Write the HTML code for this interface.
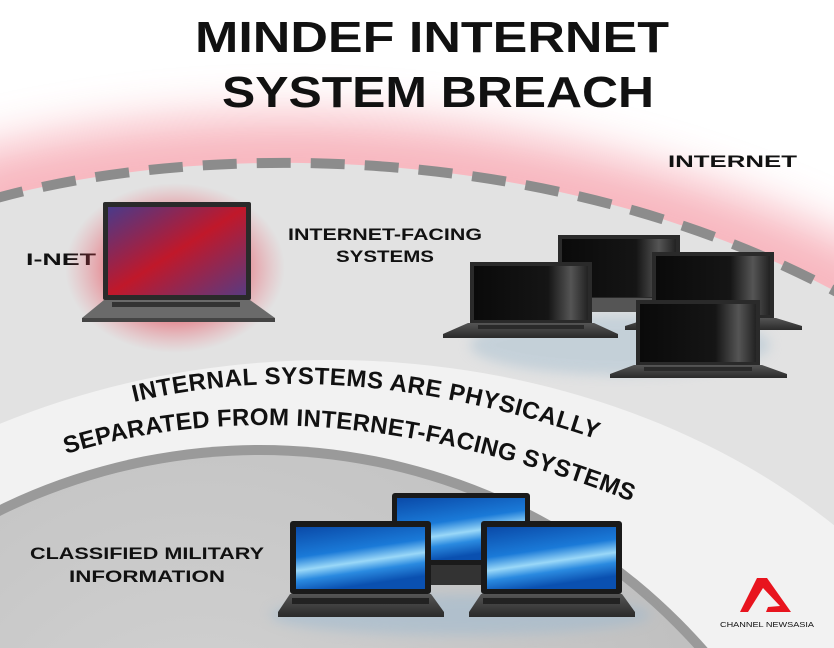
<!DOCTYPE html>
<html><head><meta charset="utf-8"><style>
html,body{margin:0;padding:0;background:#fff;width:834px;height:648px;overflow:hidden}
svg{display:block}
text{font-family:"Liberation Sans",sans-serif;font-weight:bold;fill:#111}
</style></head><body>
<svg width="834" height="648" viewBox="0 0 834 648" xmlns="http://www.w3.org/2000/svg">
<defs>
<filter id="blur20" filterUnits="userSpaceOnUse" x="-200" y="-200" width="1300" height="800"><feGaussianBlur stdDeviation="24"/></filter>
<filter id="blur6" x="-50%" y="-50%" width="200%" height="200%"><feGaussianBlur stdDeviation="6"/></filter>
<clipPath id="clip"><rect width="834" height="648"/></clipPath>
<radialGradient id="redglow" cx="50%" cy="50%" r="50%">
<stop offset="0" stop-color="#e0102a" stop-opacity="0.95"/><stop offset="0.6" stop-color="#e83040" stop-opacity="0.5"/><stop offset="1" stop-color="#f06070" stop-opacity="0"/></radialGradient>
<linearGradient id="scrRed" x1="0" y1="0" x2="1" y2="1"><stop offset="0" stop-color="#4a3a8a"/><stop offset="0.5" stop-color="#c0182a"/><stop offset="1" stop-color="#5a3a80"/></linearGradient>
<linearGradient id="scrBlk" x1="0" y1="0" x2="1" y2="0"><stop offset="0" stop-color="#0a0a0a"/><stop offset="0.65" stop-color="#151515"/><stop offset="0.85" stop-color="#555"/><stop offset="1" stop-color="#222"/></linearGradient>
<linearGradient id="scrBlue" x1="0" y1="0" x2="0.3" y2="1"><stop offset="0" stop-color="#0a4aa8"/><stop offset="0.45" stop-color="#1a7ad8"/><stop offset="0.65" stop-color="#9ad8f8"/><stop offset="0.8" stop-color="#2a8ae0"/><stop offset="1" stop-color="#0a50b0"/></linearGradient>
<linearGradient id="base" x1="0" y1="0" x2="0" y2="1"><stop offset="0" stop-color="#555"/><stop offset="1" stop-color="#2a2a2a"/></linearGradient>
<radialGradient id="inner" cx="45%" cy="30%" r="70%"><stop offset="0" stop-color="#d4d4d4"/><stop offset="1" stop-color="#b4b4b4"/></radialGradient>
</defs>
<g clip-path="url(#clip)">
<rect width="834" height="648" fill="#fff"/>
<path d="M -40,210 C 200,140 560,140 880,315" fill="none" stroke="#f07080" stroke-width="100" opacity="0.5" filter="url(#blur20)"/>
<path d="M -10,200 C 200,140 560,140 844,296 L 844,660 L -10,660 Z" fill="#e2e2e2"/>
<path d="M -10,200 C 200,140 560,140 844,296" fill="none" stroke="#8c8c8c" stroke-width="10" stroke-dasharray="34 20"/>
<ellipse cx="330" cy="900" rx="700" ry="540" fill="#f2f2f2"/>
<circle cx="260" cy="1040" r="595" fill="#9a9a9a"/>
<circle cx="260" cy="1040" r="585" fill="url(#inner)"/>

<text x="195" y="52" font-size="44" textLength="474" lengthAdjust="spacingAndGlyphs">MINDEF INTERNET</text>
<text x="222" y="107" font-size="44" textLength="432" lengthAdjust="spacingAndGlyphs">SYSTEM BREACH</text>

<text x="668" y="167" font-size="17" textLength="129" lengthAdjust="spacingAndGlyphs">INTERNET</text>
<text x="26" y="265" font-size="17" textLength="70" lengthAdjust="spacingAndGlyphs">I-NET</text>
<text x="288" y="240" font-size="17" textLength="194" lengthAdjust="spacingAndGlyphs">INTERNET-FACING</text>
<text x="336" y="262" font-size="17" textLength="98" lengthAdjust="spacingAndGlyphs">SYSTEMS</text>
<text x="30" y="559" font-size="17" textLength="234" lengthAdjust="spacingAndGlyphs">CLASSIFIED MILITARY</text>
<text x="69" y="582" font-size="17" textLength="156" lengthAdjust="spacingAndGlyphs">INFORMATION</text>

<path id="c1" d="M 134,402 Q 360,348 640,455" fill="none"/>
<path id="c2" d="M 66,454 Q 340,370 700,530" fill="none"/>
<text font-size="24" letter-spacing="0.5"><textPath href="#c1">INTERNAL SYSTEMS ARE PHYSICALLY</textPath></text>
<text font-size="24" letter-spacing="0.3"><textPath href="#c2">SEPARATED FROM INTERNET-FACING SYSTEMS</textPath></text>

<ellipse cx="175" cy="268" rx="110" ry="85" fill="url(#redglow)"/>
<rect x="103" y="202" width="148" height="98" fill="#2a2a2a" rx="2"/>
<rect x="108" y="207" width="138" height="88" fill="url(#scrRed)"/>
<path d="M 104,300 L 250,300 L 275,318 L 82,318 Z" fill="#6a6a6a"/>
<rect x="112" y="302" width="128" height="5" fill="#333"/>
<rect x="82" y="318" width="193" height="4" fill="#444"/>

<g>
<ellipse cx="620" cy="345" rx="150" ry="30" fill="#a8c0d0" opacity="0.5" filter="url(#blur6)"/>
<rect x="558" y="235" width="122" height="66" fill="#2a2a2a"/><rect x="562" y="239" width="114" height="58" fill="url(#scrBlk)"/>
<rect x="590" y="298" width="65" height="14" fill="#555"/>
<rect x="652" y="252" width="122" height="67" fill="#2a2a2a"/><rect x="656" y="256" width="114" height="59" fill="url(#scrBlk)"/>
<path d="M 650,318 L 776,318 L 802,326 L 802,330 L 625,330 L 625,326 Z" fill="url(#base)"/>
<rect x="470" y="262" width="122" height="62" fill="#2a2a2a"/><rect x="474" y="266" width="114" height="54" fill="url(#scrBlk)"/>
<path d="M 468,323 L 594,323 L 618,334 L 618,338 L 443,338 L 443,334 Z" fill="url(#base)"/>
<rect x="478" y="325" width="106" height="4" fill="#2a2a2a"/>
<rect x="636" y="300" width="124" height="66" fill="#2a2a2a"/><rect x="640" y="304" width="116" height="58" fill="url(#scrBlk)"/>
<path d="M 634,365 L 762,365 L 787,374 L 787,378 L 610,378 L 610,374 Z" fill="url(#base)"/>
<rect x="644" y="367" width="108" height="4" fill="#2a2a2a"/>
</g>

<ellipse cx="460" cy="615" rx="190" ry="20" fill="#9ab8d0" opacity="0.5" filter="url(#blur6)"/>
<rect x="392" y="493" width="138" height="72" fill="#1a1a1a" rx="3"/><rect x="397" y="498" width="128" height="62" fill="url(#scrBlue)"/>
<rect x="430" y="565" width="60" height="20" fill="#333"/>
<rect x="290" y="521" width="141" height="73" fill="#1a1a1a" rx="3"/><rect x="296" y="527" width="129" height="62" fill="url(#scrBlue)"/>
<path d="M 290,594 L 431,594 L 444,612 L 444,617 L 278,617 L 278,612 Z" fill="url(#base)"/>
<rect x="292" y="598" width="137" height="6" fill="#222"/>
<rect x="481" y="521" width="141" height="73" fill="#1a1a1a" rx="3"/><rect x="487" y="527" width="129" height="62" fill="url(#scrBlue)"/>
<path d="M 481,594 L 622,594 L 635,612 L 635,617 L 469,617 L 469,612 Z" fill="url(#base)"/>
<rect x="483" y="598" width="137" height="6" fill="#222"/>

<path d="M 757,578 L 767,578 L 791,612 L 766,612 L 768,607 L 780,606 L 763,588 L 748,612 L 740,612 Z" fill="#e8141e"/>
<text x="720" y="627" font-size="7" style="font-weight:normal" fill="#333" textLength="94" lengthAdjust="spacingAndGlyphs">CHANNEL NEWSASIA</text>
</g>
</svg>
</body></html>
